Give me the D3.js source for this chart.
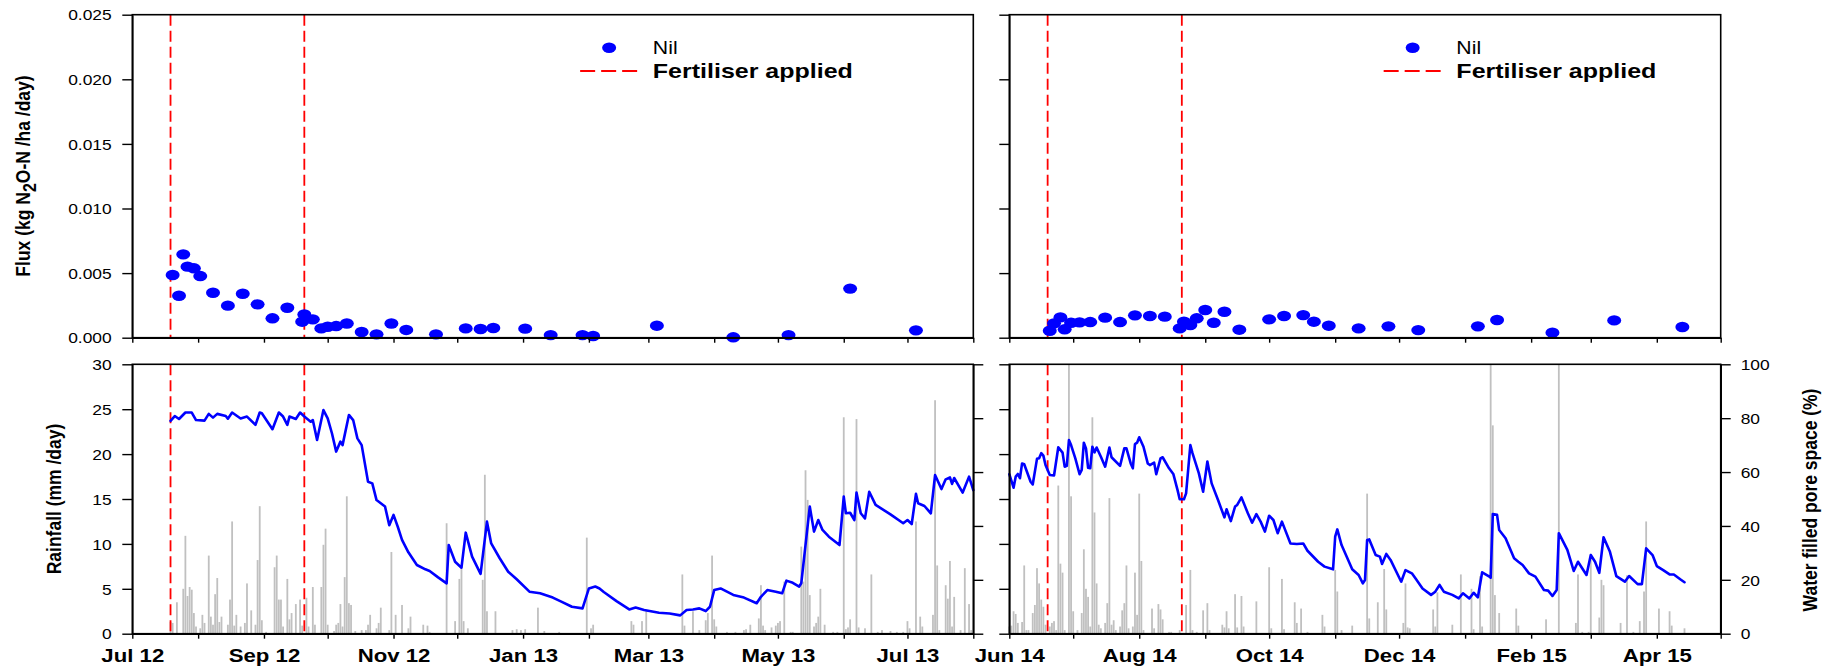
<!DOCTYPE html>
<html>
<head>
<meta charset="utf-8">
<script src="https://cdn.jsdelivr.net/npm/d3@7"></script>
<style>
  html, body { margin: 0; padding: 0; background: #fff; }
  svg { display: block; }
</style>
</head>
<body>
<svg id="chart" width="1836" height="667"></svg>
<script>
// ---------------- data ----------------
// N2O-N flux, Nil treatment (kg N2O-N /ha /day), by sampling date
const fluxNil2012 = [
  ["2012-07-20",0.00485],["2012-07-23",0.00325],["2012-07-25",0.00645],["2012-07-27",0.0055],
  ["2012-07-30",0.00537],["2012-08-02",0.00477],["2012-08-08",0.00348],["2012-08-15",0.00248],
  ["2012-08-22",0.0034],["2012-08-29",0.00258],["2012-09-05",0.0015],["2012-09-12",0.00232],
  ["2012-09-19",0.00124],["2012-09-20",0.0018],["2012-09-24",0.00142],["2012-09-28",0.00072],
  ["2012-10-01",0.00085],["2012-10-05",0.0009],["2012-10-10",0.0011],["2012-10-17",0.00044],
  ["2012-10-24",0.00026],["2012-10-31",0.0011],["2012-11-07",0.0006],["2012-11-21",0.00026],
  ["2012-12-05",0.00072],["2012-12-12",0.00067],["2012-12-18",0.00075],["2013-01-02",0.0007],
  ["2013-01-14",0.0002],["2013-01-29",0.0002],["2013-02-03",0.00013],["2013-03-05",0.00093],
  ["2013-04-10",0.00003],["2013-05-06",0.0002],["2013-06-04",0.0038],["2013-07-05",0.00057]
];
const fluxNil2014 = [
  ["2014-06-20",0.00054],["2014-06-22",0.00111],["2014-06-25",0.00157],["2014-06-27",0.00065],
  ["2014-06-30",0.00116],["2014-07-04",0.00119],["2014-07-09",0.00121],["2014-07-16",0.00155],
  ["2014-07-23",0.00121],["2014-07-30",0.00173],["2014-08-06",0.00168],["2014-08-13",0.00163],
  ["2014-08-20",0.00072],["2014-08-22",0.00124],["2014-08-25",0.00098],["2014-08-28",0.0015],
  ["2014-09-01",0.00214],["2014-09-05",0.00116],["2014-09-10",0.00201],["2014-09-17",0.00062],
  ["2014-10-01",0.00142],["2014-10-08",0.00168],["2014-10-17",0.00175],["2014-10-22",0.00124],
  ["2014-10-29",0.00093],["2014-11-12",0.00072],["2014-11-26",0.00088],["2014-12-10",0.00059],
  ["2015-01-07",0.00088],["2015-01-16",0.00137],["2015-02-11",0.00039],["2015-03-12",0.00134],
  ["2015-04-13",0.00083]
];

// Fertiliser application dates
const fertiliser2012 = ["2012-07-19", "2012-09-20"];
const fertiliser2014 = ["2014-06-19", "2014-08-21"];

// Daily rainfall (mm/day): [day of record, mm]; day 0 = 1 Jul 2012
const rain2012 = [
  [18,1.3],[19,1.2],[21,3.5],[24,5.0],[25,10.9],[26,4.2],[27,5.2],[28,4.9],[29,2.3],[30,0.8],
  [32,0.6],[33,2.1],[34,1.2],[36,8.7],[37,1.9],[38,1.0],[39,4.4],[40,6.2],[41,1.3],[42,1.9],
  [45,1.0],[46,3.8],[47,12.5],[48,0.9],[49,2.1],[51,0.8],[53,1.2],[54,5.6],[56,2.6],[58,1.0],
  [59,8.2],[60,14.2],[61,1.5],[63,0.2],[67,7.4],[68,8.7],[69,3.8],[70,3.8],[71,0.8],[73,6.1],
  [74,1.6],[75,2.3],[77,3.3],[79,3.8],[80,0.9],[82,4.0],[83,0.8],[85,5.2],[86,1.0],[89,5.2],
  [90,9.9],[91,11.7],[92,1.0],[95,0.3],[96,1.0],[97,1.2],[98,3.3],[99,0.8],[100,6.3],[101,15.3],
  [102,3.4],[103,3.2],[105,0.3],[108,0.4],[110,0.4],[111,1.0],[112,2.1],[115,0.6],[116,1.2],
  [117,2.9],[121,0.4],[122,9.1],[124,2.1],[127,3.2],[130,0.6],[131,1.9],[137,1.0],[139,0.9],
  [140,0.2],[148,12.3],[152,1.4],[154,6.1],[155,7.5],[156,1.4],[158,0.6],[165,6.0],[166,17.7],
  [167,2.5],[171,2.5],[179,0.4],[181,0.5],[183,0.4],[185,0.5],[191,2.9],[194,0.3],[201,0.2],
  [214,10.7],[216,0.6],[217,1.0],[235,1.4],[236,1.0],[240,1.4],[242,2.6],[259,6.6],[260,0.9],
  [264,2.5],[267,0.4],[270,1.5],[271,2.3],[273,8.7],[274,1.6],[275,0.8],[280,0.2],[284,0.2],
  [288,0.4],[289,0.5],[291,1.0],[295,1.7],[296,5.4],[297,0.9],[298,0.4],[301,0.7],[303,0.9],
  [304,1.2],[305,1.4],[307,5.8],[310,0.2],[311,0.2],[315,9.7],[316,5.8],[317,18.2],[318,14.9],
  [319,4.3],[321,0.8],[322,1.2],[323,1.9],[324,5.0],[326,1.0],[330,0.2],[332,0.2],[335,24.1],
  [336,0.5],[337,0.7],[338,1.6],[341,23.9],[342,0.7],[345,0.6],[348,6.6],[351,0.2],[353,0.4],
  [357,0.3],[360,0.2],[363,0.2],[365,1.4],[366,0.6],[369,12.5],[371,1.9],[372,0.8],[377,2.1],
  [378,26.0],[379,7.6],[380,0.4],[383,5.4],[384,3.9],[385,8.1],[386,0.8],[387,4.1],[390,0.4],
  [392,7.3],[394,3.3],[395,0.4]
];
// day 0 = 1 Jun 2014
const rain2014 = [
  [0,0.8],[1,0.9],[2,2.5],[3,2.2],[4,1.2],[6,1.3],[7,7.6],[8,0.4],[9,0.4],[11,2.3],[12,3.2],
  [13,7.3],[14,5.6],[15,3.8],[16,3.0],[17,1.0],[19,0.8],[20,1.2],[21,1.4],[22,0.4],[23,16.5],
  [24,7.8],[25,6.8],[26,0.4],[28,30],[29,15.3],[30,2.5],[32,0.4],[34,2.3],[35,9.4],[36,5.0],
  [37,4.1],[38,0.8],[39,24.1],[40,13.5],[41,5.6],[42,1.0],[43,0.6],[45,1.2],[46,3.4],[47,15.1],
  [48,1.0],[49,1.5],[50,0.4],[52,0.8],[53,2.6],[54,3.4],[55,7.6],[56,0.6],[58,0.8],[59,6.8],
  [60,2.1],[61,15.6],[62,8.1],[63,0.4],[67,2.8],[68,0.6],[70,3.3],[71,2.7],[72,1.6],[75,0.2],
  [76,0.2],[80,0.4],[83,3.2],[85,7.1],[86,0.4],[88,0.2],[91,2.6],[93,3.4],[94,0.4],[100,1.0],
  [101,0.7],[102,2.5],[103,0.6],[106,4.4],[107,0.7],[109,4.2],[110,0.8],[116,3.6],[122,7.4],
  [123,0.6],[128,6.1],[129,0.5],[134,3.5],[135,1.2],[137,2.8],[140,0.2],[147,2.1],[148,0.8],
  [153,7.1],[154,4.7],[156,0.4],[161,0.9],[168,15.6],[169,1.7],[173,3.5],[176,7.2],[177,2.7],
  [185,1.2],[186,5.6],[187,0.7],[188,0.6],[199,2.7],[200,0.8],[201,4.6],[208,1.0],[212,6.6],
  [217,5.0],[218,0.5],[221,6.4],[222,0.8],[226,30],[227,23.2],[228,4.3],[230,2.3],[238,2.8],
  [239,0.9],[252,1.6],[258,30],[266,1.2],[267,6.6],[269,0.2],[272,0.2],[273,8.9],[277,1.8],
  [278,6.0],[279,5.4],[287,1.2],[290,6.5],[293,0.2],[296,1.4],[298,4.7],[299,12.5],[305,2.8],
  [310,2.5],[311,0.9],[317,0.6]
];

// Water filled pore space (%): [day of record, %]
const wfps2012 = [
  [18,79.0],[20,80.8],[22,79.7],[25,82.1],[28,82.1],[30,79.3],[34,79.1],[36,81.6],[38,80.2],
  [40,81.6],[44,80.8],[45,79.8],[47,82.1],[51,79.9],[54,80.6],[58,77.5],[60,82.1],[61,81.8],
  [66,75.9],[69,82.1],[71,80.6],[73,77.5],[74,80.6],[77,79.7],[79,82.1],[81,80.6],[84,78.7],
  [85,79.3],[87,71.9],[90,83.0],[92,79.9],[94,74.4],[96,67.6],[98,71.3],[99,70.0],[102,81.2],
  [104,79.3],[106,72.5],[108,70.0],[111,56.4],[113,55.8],[115,49.6],[117,48.4],[119,47.2],
  [121,40.3],[123,44.1],[125,39.7],[127,34.8],[130,30.2],[134,25.5],[138,23.9],[140,23.3],
  [144,20.9],[148,18.7],[149,32.9],[152,26.7],[155,24.5],[157,37.5],[160,28.6],[164,22.2],
  [167,41.6],[169,33.5],[173,28.0],[177,23.0],[181,20.2],[187,15.6],[192,15.0],[198,13.4],
  [202,11.9],[207,10.0],[212,9.4],[215,16.8],[218,17.5],[220,16.8],[222,15.5],[228,12.1],
  [234,9.0],[237,9.7],[241,8.8],[248,7.8],[253,7.5],[258,6.8],[261,8.8],[264,9.0],[267,9.4],
  [270,8.4],[272,10.0],[274,16.2],[277,16.8],[283,14.4],[288,13.4],[294,11.3],[296,13.7],
  [299,16.2],[303,15.6],[306,15.0],[308,19.7],[311,18.9],[314,17.5],[315,18.7],[319,47.2],
  [321,37.9],[323,42.2],[325,38.5],[328,36.0],[333,32.9],[335,50.9],[336,44.7],[338,44.9],
  [340,42.2],[341,52.4],[343,44.7],[345,42.8],[347,52.7],[350,47.8],[357,44.3],[363,41.0],
  [365,42.2],[367,40.7],[369,51.9],[370,48.4],[373,47.4],[376,44.7],[378,58.9],[381,53.7],
  [383,57.3],[385,58.0],[386,55.6],[387,57.8],[391,52.4],[394,58.3],[396,53.3]
];
const wfps2014 = [
  [0,59.2],[2,54.2],[3,58.3],[4,59.3],[5,57.7],[6,63.2],[7,62.9],[10,56.4],[11,55.4],[13,64.9],
  [14,65.1],[15,67.0],[16,66.1],[17,62.6],[19,58.9],[21,58.7],[23,69.2],[25,67.2],[26,62.0],
  [27,62.3],[28,71.9],[29,70.0],[31,65.1],[33,59.2],[34,60.8],[35,70.9],[36,68.8],[37,61.6],
  [38,61.4],[39,69.4],[40,67.3],[41,69.1],[43,65.7],[45,62.0],[47,69.1],[48,65.5],[52,62.3],
  [54,68.8],[55,68.8],[57,63.2],[58,61.4],[59,70.4],[60,70.9],[61,72.9],[63,69.4],[65,63.2],
  [66,62.6],[68,63.5],[69,59.2],[71,65.1],[72,65.5],[75,61.4],[77,59.3],[79,53.3],[80,49.9],
  [82,49.9],[83,52.1],[85,70.0],[86,67.0],[89,59.5],[91,52.7],[93,63.9],[95,55.8],[98,49.6],
  [101,43.2],[102,46.2],[104,41.8],[106,47.2],[107,47.8],[109,50.6],[112,44.7],[114,41.2],
  [116,44.4],[118,41.6],[120,37.9],[122,43.8],[124,42.2],[126,37.3],[128,41.6],[132,33.5],
  [135,33.3],[138,33.5],[140,30.8],[145,26.7],[148,24.9],[152,23.9],[153,36.0],[154,38.7],
  [156,32.9],[161,23.9],[164,21.8],[166,18.7],[167,19.9],[168,34.8],[169,35.0],[172,29.2],
  [174,28.6],[175,25.9],[177,29.6],[179,27.4],[184,19.3],[186,23.6],[189,22.4],[191,20.2],
  [194,16.8],[198,14.4],[200,15.6],[202,18.1],[204,15.6],[208,14.4],[211,13.1],[213,15.0],
  [216,13.1],[218,15.2],[220,13.5],[222,22.8],[225,21.4],[226,20.8],[227,44.4],[229,44.1],
  [230,38.5],[233,35.4],[237,28.0],[239,26.7],[241,25.5],[244,22.4],[247,21.2],[251,16.2],
  [253,16.0],[255,14.0],[257,16.2],[258,37.3],[262,31.1],[265,23.3],[267,26.7],[271,21.8],
  [273,29.2],[275,26.7],[277,22.6],[279,35.8],[282,30.4],[285,21.4],[289,19.3],[291,21.4],
  [295,18.4],[297,18.4],[299,31.7],[302,29.2],[304,25.1],[307,23.6],[310,22.0],[312,22.0],
  [315,20.2],[317,19.1]
];

// Axis ticks and labels
const fluxTicks = [0, 0.005, 0.010, 0.015, 0.020, 0.025];
const rainTicks = [0, 5, 10, 15, 20, 25, 30];
const wfpsTicks = [0, 20, 40, 60, 80, 100];
const legendLabels = ["Nil", "Fertiliser applied"];
const seasons = [
  { start: "2012-07-01", end: "2013-08-01" },
  { start: "2014-06-01", end: "2015-05-01" }
];

// ---------------- drawing ----------------
const FONT = '"Liberation Sans", Arial, Helvetica, sans-serif';
const KX = 1.2;                 // horizontal widening applied to lettering
const BLUE = "#0000ff", RED = "#ff0000", GREY = "#c0c0c0";
const parse = d3.timeParse("%Y-%m-%d");
const fmtMonth = d3.timeFormat("%b %y");

const svg = d3.select("#chart");
svg.append("rect").attr("width", 1836).attr("height", 667).attr("fill", "#fff");

const topBox = { y0: 14.7, y1: 337.7 };
const botBox = { y0: 364.3, y1: 633.7 };
const colX = [[132.3, 973.3], [1009.3, 1720.7]];

const yFlux = d3.scaleLinear().domain([0, 0.025]).range([topBox.y1, topBox.y0]);
const yRain = d3.scaleLinear().domain([0, 30]).range([botBox.y1, botBox.y0]);
const yWfps = d3.scaleLinear().domain([0, 100]).range([botBox.y1, botBox.y0]);

const panels = [
  { season: seasons[0], flux: fluxNil2012, rain: rain2012, wfps: wfps2012, fert: fertiliser2012 },
  { season: seasons[1], flux: fluxNil2014, rain: rain2014, wfps: wfps2014, fert: fertiliser2014 }
];

function styleAxis(g) {
  g.attr("font-family", FONT);
  g.select(".domain").attr("stroke", "#000").attr("stroke-width", 1.6);
  g.selectAll(".tick line").attr("stroke", "#000").attr("stroke-width", 1.4);
}

panels.forEach((p, i) => {
  const [x0, x1] = colX[i];
  const start = parse(p.season.start), end = parse(p.season.end);
  const x = d3.scaleTime().domain([start, end]).range([x0, x1]);
  const months = d3.timeMonth.range(start, d3.timeDay.offset(end, 1));
  const dayOf = n => d3.timeDay.offset(start, n);

  // ---- flux panel ----
  const top = svg.append("g");
  top.selectAll("line.fert").data(p.fert).join("line")
    .attr("x1", d => x(parse(d))).attr("x2", d => x(parse(d)))
    .attr("y1", topBox.y0).attr("y2", topBox.y1)
    .attr("stroke", RED).attr("stroke-width", 1.8).attr("stroke-dasharray", "11,5");

  top.selectAll("ellipse.pt").data(p.flux).join("ellipse")
    .attr("cx", d => x(parse(d[0]))).attr("cy", d => yFlux(d[1]))
    .attr("rx", 7).attr("ry", 5.2).attr("fill", BLUE);

  top.append("rect").attr("x", x0).attr("y", topBox.y0)
    .attr("width", x1 - x0).attr("height", topBox.y1 - topBox.y0)
    .attr("fill", "none").attr("stroke", "#000").attr("stroke-width", 1.6);

  const tb = top.append("g").attr("transform", `translate(0,${topBox.y1})`)
    .call(d3.axisBottom(x).tickValues(months).tickSize(5).tickSizeOuter(0).tickFormat(""));
  styleAxis(tb);

  const tl = top.append("g").attr("transform", `translate(${x0},0)`)
    .call(d3.axisLeft(yFlux).tickValues(fluxTicks).tickSize(10).tickSizeOuter(0)
      .tickFormat(i === 0 ? d3.format(".3f") : ""));
  styleAxis(tl);
  tl.selectAll(".tick text").attr("font-size", 14.5).attr("fill", "#000")
    .attr("x", -20.6 / KX).attr("dy", "0.36em").attr("transform", `scale(${KX},1)`);

  // legend
  const lx = x0 + 0.567 * (x1 - x0);
  top.append("ellipse").attr("cx", lx).attr("cy", 47.8).attr("rx", 7).attr("ry", 5.2).attr("fill", BLUE);
  top.append("line").attr("x1", lx - 29).attr("x2", lx + 29).attr("y1", 71).attr("y2", 71)
    .attr("stroke", RED).attr("stroke-width", 1.8).attr("stroke-dasharray", "15,6");
  top.append("text").attr("transform", `translate(${lx + 43.7},54.2) scale(1.18,1)`)
    .attr("font-family", FONT).attr("font-size", 18).text(legendLabels[0]);
  top.append("text").attr("transform", `translate(${lx + 43.7},78) scale(1.19,1)`)
    .attr("font-family", FONT).attr("font-size", 21).attr("font-weight", "bold").text(legendLabels[1]);

  // ---- rainfall / WFPS panel ----
  const bot = svg.append("g");
  const bw = 1.8;
  bot.selectAll("rect.bar").data(p.rain).join("rect")
    .attr("x", d => x(dayOf(d[0])) - bw / 2).attr("width", bw)
    .attr("y", d => yRain(d[1])).attr("height", d => yRain(0) - yRain(d[1]))
    .attr("fill", GREY);

  bot.selectAll("line.fert").data(p.fert).join("line")
    .attr("x1", d => x(parse(d))).attr("x2", d => x(parse(d)))
    .attr("y1", botBox.y0).attr("y2", botBox.y1)
    .attr("stroke", RED).attr("stroke-width", 1.8).attr("stroke-dasharray", "11,5");

  const line = d3.line().x(d => x(dayOf(d[0]))).y(d => yWfps(d[1]));
  bot.append("path").datum(p.wfps).attr("d", line)
    .attr("fill", "none").attr("stroke", BLUE).attr("stroke-width", 2.6)
    .attr("stroke-linejoin", "round").attr("stroke-linecap", "round");

  bot.append("rect").attr("x", x0).attr("y", botBox.y0)
    .attr("width", x1 - x0).attr("height", botBox.y1 - botBox.y0)
    .attr("fill", "none").attr("stroke", "#000").attr("stroke-width", 1.6);

  const bb = bot.append("g").attr("transform", `translate(0,${botBox.y1})`)
    .call(d3.axisBottom(x).tickValues(months).tickSize(5).tickSizeOuter(0)
      .tickFormat(d => d3.timeMonth.count(start, d) % 2 === 0 && d < end ? fmtMonth(d) : ""));
  styleAxis(bb);
  bb.selectAll(".tick text").attr("font-size", 18.5).attr("font-weight", "bold").attr("fill", "#000")
    .attr("y", 28.3).attr("dy", 0).attr("transform", `scale(${KX},1)`);

  const bl = bot.append("g").attr("transform", `translate(${x0},0)`)
    .call(d3.axisLeft(yRain).tickValues(rainTicks).tickSize(10).tickSizeOuter(0)
      .tickFormat(i === 0 ? d3.format("d") : ""));
  styleAxis(bl);
  bl.selectAll(".tick text").attr("font-size", 14.5).attr("fill", "#000")
    .attr("x", -20.6 / KX).attr("dy", "0.36em").attr("transform", `scale(${KX},1)`);

  const br = bot.append("g").attr("transform", `translate(${x1},0)`)
    .call(d3.axisRight(yWfps).tickValues(wfpsTicks).tickSize(10).tickSizeOuter(0)
      .tickFormat(i === 1 ? d3.format("d") : ""));
  styleAxis(br);
  br.selectAll(".tick text").attr("font-size", 14.5).attr("fill", "#000")
    .attr("x", 20 / KX).attr("dy", "0.36em").attr("transform", `scale(${KX},1)`);
});

// ---- axis titles ----
function vTitle(cx, cy, build) {
  const t = svg.append("text")
    .attr("transform", `translate(${cx},${cy}) scale(1.15,1) rotate(-90)`)
    .attr("text-anchor", "middle").attr("font-family", FONT)
    .attr("font-size", 17.5).attr("font-weight", "bold").attr("fill", "#000");
  build(t);
}
vTitle(30, 176, t => {
  t.append("tspan").text("Flux (kg N");
  t.append("tspan").attr("font-size", 16).attr("dy", 5).text("2");
  t.append("tspan").attr("dy", -5).text("O-N /ha /day)");
});
vTitle(61, 499, t => t.text("Rainfall (mm /day)"));
vTitle(1817, 500, t => t.text("Water filled pore space (%)"));
</script>
</body>
</html>
